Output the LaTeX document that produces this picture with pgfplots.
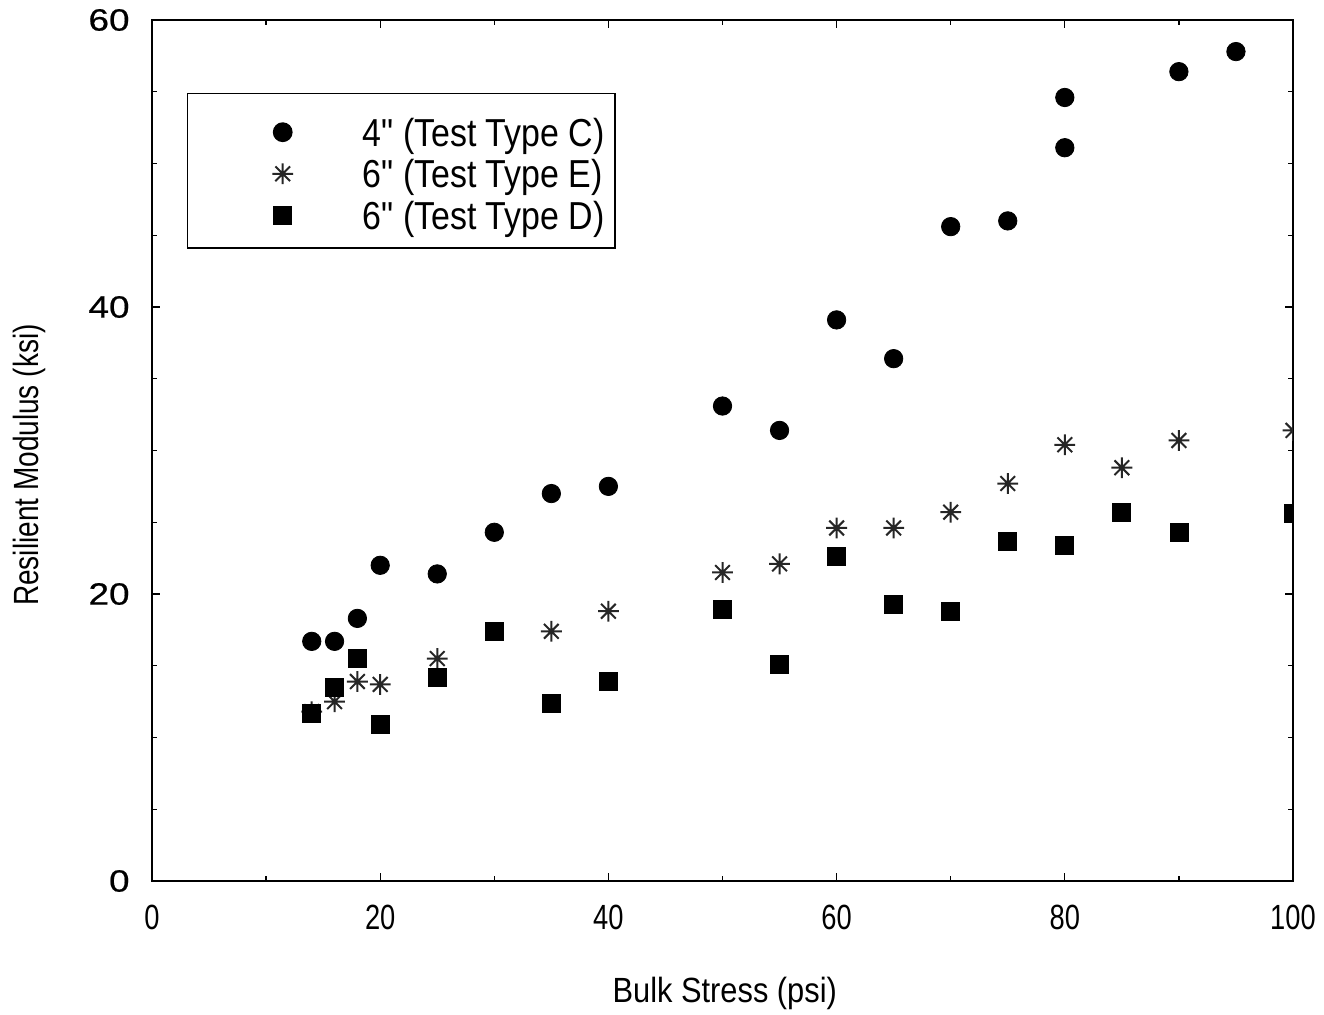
\documentclass[border=0pt]{standalone}
\usepackage{fontspec}
\setmainfont{Liberation Sans}
\newfontfamily\fA[FakeStretch=0.78]{Liberation Sans}
\newfontfamily\fB[FakeStretch=0.87]{Liberation Sans}
\newfontfamily\fC[FakeStretch=0.88]{Liberation Sans}
\newfontfamily\fD[FakeStretch=0.80]{Liberation Sans}
\newfontfamily\fE[FakeStretch=1.2,FakeBold=0.6]{Liberation Sans}
\usepackage{pgfplots}
\pgfplotsset{compat=1.18}
\pgfdeclareplotmark{star8}{%
  \pgfpathmoveto{\pgfqpoint{-\pgfplotmarksize}{0pt}}\pgfpathlineto{\pgfqpoint{\pgfplotmarksize}{0pt}}%
  \pgfpathmoveto{\pgfqpoint{0pt}{-\pgfplotmarksize}}\pgfpathlineto{\pgfqpoint{0pt}{\pgfplotmarksize}}%
  \pgfpathmoveto{\pgfqpointpolar{45}{\pgfplotmarksize}}\pgfpathlineto{\pgfqpointpolar{225}{\pgfplotmarksize}}%
  \pgfpathmoveto{\pgfqpointpolar{135}{\pgfplotmarksize}}\pgfpathlineto{\pgfqpointpolar{315}{\pgfplotmarksize}}%
  \pgfusepathqstroke}
\begin{document}
\begin{tikzpicture}
\useasboundingbox (-76bp,-67bp) rectangle (586bp,440.5bp);
\begin{axis}[
  scale only axis, width=570.5bp, height=430.5bp,
  xmin=0, xmax=100, ymin=0, ymax=60,
  xtick={0,20,...,100}, ytick={0,20,40,60},
  minor xtick={10,30,50,70,90}, minor ytick={5,10,15,25,30,35,45,50,55},
  tick align=inside, major tick length=4bp, minor tick length=2.5bp,
  tick style={black, line width=0.6bp},
  axis line style={line width=0.8bp},
  /pgf/number format/assume math mode=true,
  xticklabel style={font=\fA\fontsize{17.5bp}{20bp}\selectfont, inner sep=0pt, yshift=-12bp},
  yticklabel style={font=\fE\fontsize{15.4bp}{18bp}\selectfont, inner sep=0pt, xshift=-11bp},
  xlabel={Bulk Stress (psi)},
  ylabel={Resilient Modulus (ksi)},
  xlabel style={font=\fC\fontsize{17.5bp}{20bp}\selectfont, at={(axis description cs:0.502,-0.131)}, anchor=center},
  ylabel style={font=\fD\fontsize{17.5bp}{20bp}\selectfont, at={(axis description cs:-0.107,0.483)}, anchor=center},
  clip marker paths=true,
  legend cell align=left,
  legend style={at={(axis description cs:0.0307,0.9152)}, anchor=north west,
    font=\fB\fontsize{19.5bp}{22bp}\selectfont, draw=black, line width=0.7bp,
    inner xsep=5bp, inner ysep=8.25bp, row sep=1.8bp,
    nodes={inner sep=0pt, text height=18bp, text depth=1bp}},
  legend image code/.code={\path[draw=none] (-42.5bp,0) -- (40bp,0); \draw[#1] plot coordinates {(0bp,-1.5bp)};},
]
\addplot[only marks, mark=*, mark size=4.6bp, black, mark options={fill=black, draw=black}] coordinates {
(14,16.7)(16,16.7)(18,18.3)(20,22.0)(25,21.4)(30,24.3)(35,27.0)(40,27.5)(50,33.1)(55,31.4)(60,39.1)(65,36.4)(70,45.6)(75,46.0)(80,54.6)(80,51.1)(90,56.4)(95,57.8)};
\addlegendentry{4" (Test Type C)}
\addplot[only marks, mark=star8, mark size=5.2bp, black!85, mark options={line width=1bp}] coordinates {
(14,11.8)(16,12.5)(18,13.9)(20,13.7)(25,15.5)(35,17.4)(40,18.8)(50,21.5)(55,22.1)(60,24.6)(65,24.6)(70,25.7)(75,27.7)(80,30.4)(85,28.8)(90,30.7)(100,31.4)};
\addlegendentry{6" (Test Type E)}
\addplot[only marks, mark=square*, mark size=4.5bp, black, mark options={fill=black, draw=black}] coordinates {
(14,11.7)(16,13.5)(18,15.5)(20,10.9)(25,14.2)(30,17.4)(35,12.4)(40,13.9)(50,18.9)(55,15.1)(60,22.6)(65,19.3)(70,18.8)(75,23.7)(80,23.4)(85,25.7)(90,24.3)(100,25.6)};
\addlegendentry{6" (Test Type D)}
\end{axis}
\end{tikzpicture}
\end{document}
